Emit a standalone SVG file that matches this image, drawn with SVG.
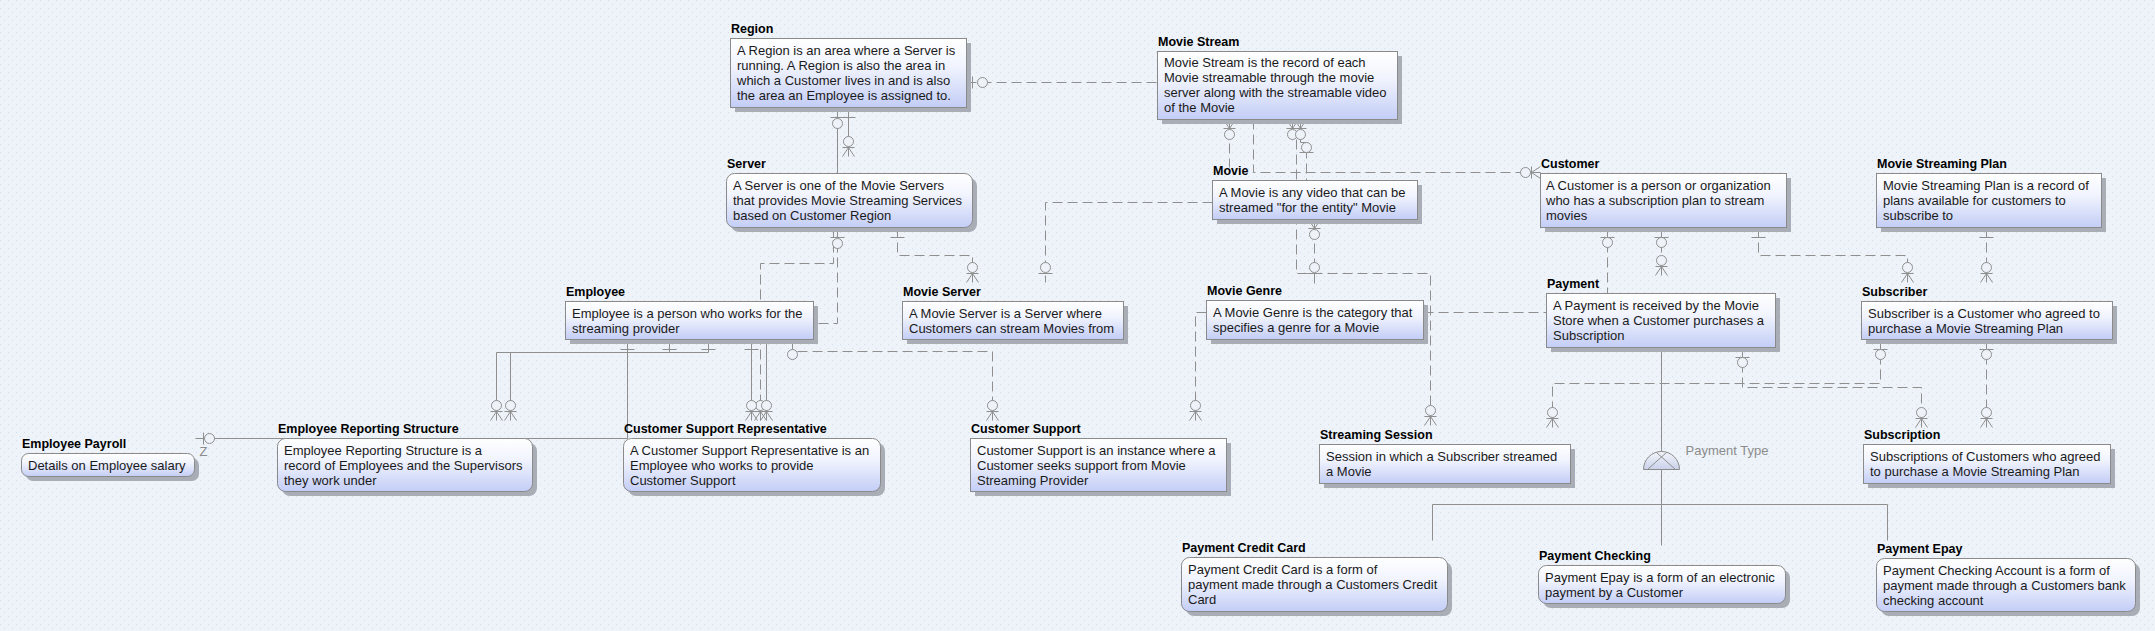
<svg xmlns="http://www.w3.org/2000/svg" width="2155" height="631" viewBox="0 0 2155 631">
<defs>
<pattern id="bgp" width="8" height="8" patternUnits="userSpaceOnUse">
<rect width="8" height="8" fill="#edf3f9"/>
<rect x="0" y="0" width="1" height="1" fill="#d3deea"/>
<rect x="4" y="4" width="1" height="1" fill="#d3deea"/>
</pattern>
<linearGradient id="g" x1="0" y1="0" x2="0" y2="1">
<stop offset="0" stop-color="#ffffff"/>
<stop offset="0.4" stop-color="#f1f4fe"/>
<stop offset="1" stop-color="#c3cdf6"/>
</linearGradient>
<linearGradient id="gd" x1="0" y1="0" x2="0" y2="1">
<stop offset="0" stop-color="#f4f6fb"/>
<stop offset="1" stop-color="#c9d1ea"/>
</linearGradient>
<style>
.box{fill:url(#g);stroke:#8a8a8a;stroke-width:1}
.sh{fill:#a9aeb6}
.t{font-family:"Liberation Sans",Arial,sans-serif;font-size:12.5px;font-weight:bold;fill:#000}
.d{font-family:"Liberation Sans",Arial,sans-serif;font-size:13px;fill:#1a1a1a}
.lbl{font-family:"Liberation Sans",Arial,sans-serif;font-size:13px;fill:#8c8c8c}
.c{fill:none;stroke:#8f8f8f;stroke-width:1}
.ds{stroke-dasharray:10 5}
.o{fill:#edf3f9;stroke:#8f8f8f;stroke-width:1}
</style>
</defs>
<rect width="2155" height="631" fill="url(#bgp)"/>

<g id="connectors" transform="translate(0.5,0.5)">
<!-- Region - Movie Stream -->
<path class="c ds" d="M966,82 H1157"/>
<path class="c" d="M972,76 V88"/><circle class="o" cx="982" cy="82" r="5"/>
<!-- Region - Server -->
<path class="c" d="M837,107 V173 M830,117 H844"/><circle class="o" cx="837" cy="123" r="5"/>
<path class="c" d="M848,107 V156 M841,117 H855 M842,156 L848,147 L854,156 M842,147 H854"/><circle class="o" cx="848" cy="141" r="5"/>
<!-- Movie Stream - Movie -->
<path class="c ds" d="M1229,128 V167"/>
<path class="c" d="M1223,119 L1229,128 L1235,119 M1229,119 V128 M1223,128 H1235"/><circle class="o" cx="1229" cy="134" r="5"/>
<!-- Movie Stream - Customer -->
<path class="c ds" d="M1253,119 V172 H1531"/>
<path class="c" d="M1540,166 L1531,172 L1540,178 M1540,172 H1531 M1531,166 V178"/><circle class="o" cx="1525" cy="172" r="5"/>
<!-- Movie Stream - Streaming Session -->
<path class="c ds" d="M1296,139 V273 H1430 V416"/>
<path class="c" d="M1286,119 L1292,128 L1298,119 M1292,119 V128 M1286,128 H1298 M1294,119 L1300,128 L1306,119 M1300,119 V128 M1294,128 H1306"/>
<circle class="o" cx="1292" cy="134" r="5"/><circle class="o" cx="1300" cy="134" r="5"/>
<path class="c" d="M1424,425 L1430,416 L1436,425 M1430,416 V425 M1424,416 H1436"/><circle class="o" cx="1430" cy="410" r="5"/>
<!-- Movie Stream - Movie (b) -->
<path class="c ds" d="M1300,139 V142 H1306 V180"/>
<path class="c" d="M1299,152 H1313"/><circle class="o" cx="1306" cy="147" r="5"/>
<!-- Movie - Movie Genre -->
<path class="c ds" d="M1314,228 V283"/>
<path class="c" d="M1308,219 L1314,228 L1320,219 M1314,219 V228 M1308,228 H1320 M1307,273 H1321"/>
<circle class="o" cx="1314" cy="234" r="5"/><circle class="o" cx="1314" cy="267" r="5"/>
<!-- Movie - Movie Server -->
<path class="c ds" d="M1212,202 H1045 V282"/>
<path class="c" d="M1038,273 H1052"/><circle class="o" cx="1045" cy="267" r="5"/>
<!-- Server - Movie Server -->
<path class="c ds" d="M897,227 V255 H972 V273"/>
<path class="c" d="M890,237 H904 M966,282 L972,273 L978,282 M972,273 V282 M966,273 H978"/><circle class="o" cx="972" cy="267" r="5"/>
<!-- Server - Customer Support Representative -->
<path class="c ds" d="M833,227 V263 H760 V411"/>
<path class="c" d="M754,420 L760,411 L766,420 M760,411 V420 M754,411 H766"/><circle class="o" cx="760" cy="405" r="5"/>
<!-- Server - Employee -->
<path class="c ds" d="M837,227 V323 H813"/>
<path class="c" d="M830,237 H844"/><circle class="o" cx="837" cy="243" r="5"/>
<!-- Employee - Employee Payroll -->
<path class="c" d="M627,339 V438 H195 M620,349 H634 M203,432 V444"/><circle class="o" cx="209" cy="438" r="5"/>
<!-- Employee - Employee Reporting Structure -->
<path class="c" d="M708,339 V352 H496 V411 M701,349 H715 M490,420 L496,411 L502,420 M496,411 V420 M490,411 H502"/><circle class="o" cx="496" cy="405" r="5"/>
<path class="c" d="M669,339 V352 H510 V411 M662,349 H676 M504,420 L510,411 L516,420 M510,411 V420 M504,411 H516"/><circle class="o" cx="510" cy="405" r="5"/>
<!-- Employee - Customer Support Representative -->
<path class="c" d="M751,339 V411 M744,349 H758 M745,420 L751,411 L757,420 M751,411 V420 M745,411 H757"/><circle class="o" cx="751" cy="405" r="5"/>
<path class="c" d="M766,339 V411 M760,420 L766,411 L772,420 M766,411 V420 M760,411 H772"/><circle class="o" cx="766" cy="405" r="5"/>
<!-- Employee - Customer Support -->
<path class="c ds" d="M792,339 V349 M797,351 H992 V411"/>
<path class="c" d="M986,420 L992,411 L998,420 M992,411 V420 M986,411 H998"/>
<circle class="o" cx="792" cy="354" r="5"/><circle class="o" cx="992" cy="405" r="5"/>
<!-- Movie Genre - Customer Support -->
<path class="c ds" d="M1206,312 H1195 V411"/>
<path class="c" d="M1189,420 L1195,411 L1201,420 M1195,411 V420 M1189,411 H1201"/><circle class="o" cx="1195" cy="405" r="5"/>
<!-- Movie Genre - Payment -->
<path class="c ds" d="M1423,312 H1546"/>
<!-- Customer - Payment -->
<path class="c ds" d="M1607,227 V293"/>
<path class="c" d="M1600,237 H1614"/><circle class="o" cx="1607" cy="242" r="5"/>
<!-- Customer - Payment (b) -->
<path class="c ds" d="M1661,227 V266"/>
<path class="c" d="M1654,237 H1668 M1655,275 L1661,266 L1667,275 M1661,266 V275 M1655,266 H1667"/>
<circle class="o" cx="1661" cy="242" r="5"/><circle class="o" cx="1661" cy="260" r="5"/>
<!-- Customer - Subscriber -->
<path class="c ds" d="M1758,227 V255 H1907 V273"/>
<path class="c" d="M1751,237 H1765 M1901,282 L1907,273 L1913,282 M1907,273 V282 M1901,273 H1913"/><circle class="o" cx="1907" cy="267" r="5"/>
<!-- Movie Streaming Plan - Subscriber -->
<path class="c ds" d="M1986,227 V273"/>
<path class="c" d="M1979,237 H1993 M1980,282 L1986,273 L1992,282 M1986,273 V282 M1980,273 H1992"/><circle class="o" cx="1986" cy="267" r="5"/>
<!-- Payment - Subscription -->
<path class="c ds" d="M1742,347 V387 H1921 V418"/>
<path class="c" d="M1735,357 H1749 M1915,427 L1921,418 L1927,427 M1921,418 V427 M1915,418 H1927"/>
<circle class="o" cx="1742" cy="362" r="5"/><circle class="o" cx="1921" cy="412" r="5"/>
<!-- Subscriber - Streaming Session -->
<path class="c ds" d="M1880,339 V383 H1552 V418"/>
<path class="c" d="M1873,349 H1887 M1546,427 L1552,418 L1558,427 M1552,418 V427 M1546,418 H1558"/>
<circle class="o" cx="1880" cy="354" r="5"/><circle class="o" cx="1552" cy="412" r="5"/>
<!-- Subscriber - Subscription -->
<path class="c ds" d="M1986,339 V418"/>
<path class="c" d="M1979,349 H1993 M1980,427 L1986,418 L1992,427 M1986,418 V427 M1980,418 H1992"/>
<circle class="o" cx="1986" cy="354" r="5"/><circle class="o" cx="1986" cy="412" r="5"/>
<!-- Payment subtypes -->
<path class="c" d="M1661,347 V545 M1432,504 H1887 M1432,504 V540 M1887,504 V540"/>
<path d="M1643,469 A18,18 0 0 1 1679,469 Z" fill="url(#gd)" stroke="#8a8a8a" stroke-width="1"/>
<path class="c" d="M1647,469 L1666,452 M1675,469 L1656,452"/>
<text class="lbl" x="1685" y="454">Payment Type</text>
<text class="lbl" x="199" y="455" font-size="12">Z</text>
</g>

<g id="region">
<rect class="sh" x="735" y="43" width="236" height="69"/>
<rect class="box" x="730.5" y="38.5" width="236" height="69"/>
<text class="t" x="731" y="33">Region</text>
<text class="d" x="737" y="55">A Region is an area where a Server is</text>
<text class="d" x="737" y="70">running. A Region is also the area in</text>
<text class="d" x="737" y="85">which a Customer lives in and is also</text>
<text class="d" x="737" y="100">the area an Employee is assigned to.</text>
</g>

<g id="movie-stream">
<rect class="sh" x="1162" y="56" width="240" height="68"/>
<rect class="box" x="1157.5" y="51.5" width="240" height="68"/>
<text class="t" x="1158" y="46">Movie Stream</text>
<text class="d" x="1164" y="67">Movie Stream is the record of each</text>
<text class="d" x="1164" y="82">Movie streamable through the movie</text>
<text class="d" x="1164" y="97">server along with the streamable video</text>
<text class="d" x="1164" y="112">of the Movie</text>
</g>

<g id="server">
<rect class="sh" x="731" y="178" width="246" height="54" rx="8"/>
<rect class="box" x="726.5" y="173.5" width="246" height="54" rx="8"/>
<text class="t" x="727" y="168">Server</text>
<text class="d" x="733" y="190">A Server is one of the Movie Servers</text>
<text class="d" x="733" y="205">that provides Movie Streaming Services</text>
<text class="d" x="733" y="220">based on Customer Region</text>
</g>

<g id="movie">
<rect class="sh" x="1217" y="185" width="205" height="39"/>
<rect class="box" x="1212.5" y="180.5" width="205" height="39"/>
<text class="t" x="1213" y="175">Movie</text>
<text class="d" x="1219" y="197">A Movie is any video that can be</text>
<text class="d" x="1219" y="212">streamed "for the entity" Movie</text>
</g>

<g id="customer">
<rect class="sh" x="1545" y="178" width="246" height="54"/>
<rect class="box" x="1540.5" y="173.5" width="246" height="54"/>
<text class="t" x="1541" y="168">Customer</text>
<text class="d" x="1546" y="190">A Customer is a person or organization</text>
<text class="d" x="1546" y="205">who has a subscription plan to stream</text>
<text class="d" x="1546" y="220">movies</text>
</g>

<g id="movie-streaming-plan">
<rect class="sh" x="1881" y="178" width="225" height="54"/>
<rect class="box" x="1876.5" y="173.5" width="225" height="54"/>
<text class="t" x="1877" y="168">Movie Streaming Plan</text>
<text class="d" x="1883" y="190">Movie Streaming Plan is a record of</text>
<text class="d" x="1883" y="205">plans available for customers to</text>
<text class="d" x="1883" y="220">subscribe to</text>
</g>

<g id="employee">
<rect class="sh" x="570" y="306" width="248" height="38"/>
<rect class="box" x="565.5" y="301.5" width="248" height="38"/>
<text class="t" x="566" y="296">Employee</text>
<text class="d" x="572" y="318">Employee is a person who works for the</text>
<text class="d" x="572" y="333">streaming provider</text>
</g>

<g id="movie-server">
<rect class="sh" x="907" y="306" width="221" height="38"/>
<rect class="box" x="902.5" y="301.5" width="221" height="38"/>
<text class="t" x="903" y="296">Movie Server</text>
<text class="d" x="909" y="318">A Movie Server is a Server where</text>
<text class="d" x="909" y="333">Customers can stream Movies from</text>
</g>

<g id="movie-genre">
<rect class="sh" x="1211" y="305" width="217" height="39"/>
<rect class="box" x="1206.5" y="300.5" width="217" height="39"/>
<text class="t" x="1207" y="295">Movie Genre</text>
<text class="d" x="1213" y="317">A Movie Genre is the category that</text>
<text class="d" x="1213" y="332">specifies a genre for a Movie</text>
</g>

<g id="payment">
<rect class="sh" x="1551" y="298" width="229" height="54"/>
<rect class="box" x="1546.5" y="293.5" width="229" height="54"/>
<text class="t" x="1547" y="288">Payment</text>
<text class="d" x="1553" y="310">A Payment is received by the Movie</text>
<text class="d" x="1553" y="325">Store when a Customer purchases a</text>
<text class="d" x="1553" y="340">Subscription</text>
</g>

<g id="subscriber">
<rect class="sh" x="1866" y="306" width="251" height="38"/>
<rect class="box" x="1861.5" y="301.5" width="251" height="38"/>
<text class="t" x="1862" y="296">Subscriber</text>
<text class="d" x="1868" y="318">Subscriber is a Customer who agreed to</text>
<text class="d" x="1868" y="333">purchase a Movie Streaming Plan</text>
</g>

<g id="employee-payroll">
<rect class="sh" x="26" y="458" width="173" height="23" rx="7"/>
<rect class="box" x="21.5" y="453.5" width="173" height="23" rx="7"/>
<text class="t" x="22" y="448">Employee Payroll</text>
<text class="d" x="28" y="470">Details on Employee salary</text>
</g>

<g id="employee-reporting-structure">
<rect class="sh" x="282" y="443" width="255" height="53" rx="8"/>
<rect class="box" x="277.5" y="438.5" width="255" height="53" rx="8"/>
<text class="t" x="278" y="433">Employee Reporting Structure</text>
<text class="d" x="284" y="455">Employee Reporting Structure is a</text>
<text class="d" x="284" y="470">record of Employees and the Supervisors</text>
<text class="d" x="284" y="485">they work under</text>
</g>

<g id="customer-support-representative">
<rect class="sh" x="628" y="443" width="257" height="53" rx="8"/>
<rect class="box" x="623.5" y="438.5" width="257" height="53" rx="8"/>
<text class="t" x="624" y="433">Customer Support Representative</text>
<text class="d" x="630" y="455">A Customer Support Representative is an</text>
<text class="d" x="630" y="470">Employee who works to provide</text>
<text class="d" x="630" y="485">Customer Support</text>
</g>

<g id="customer-support">
<rect class="sh" x="975" y="443" width="256" height="53"/>
<rect class="box" x="970.5" y="438.5" width="256" height="53"/>
<text class="t" x="971" y="433">Customer Support</text>
<text class="d" x="977" y="455">Customer Support is an instance where a</text>
<text class="d" x="977" y="470">Customer seeks support from Movie</text>
<text class="d" x="977" y="485">Streaming Provider</text>
</g>

<g id="streaming-session">
<rect class="sh" x="1324" y="449" width="251" height="39"/>
<rect class="box" x="1319.5" y="444.5" width="251" height="39"/>
<text class="t" x="1320" y="439">Streaming Session</text>
<text class="d" x="1326" y="461">Session in which a Subscriber streamed</text>
<text class="d" x="1326" y="476">a Movie</text>
</g>

<g id="subscription">
<rect class="sh" x="1868" y="449" width="247" height="39"/>
<rect class="box" x="1863.5" y="444.5" width="247" height="39"/>
<text class="t" x="1864" y="439">Subscription</text>
<text class="d" x="1870" y="461">Subscriptions of Customers who agreed</text>
<text class="d" x="1870" y="476">to purchase a Movie Streaming Plan</text>
</g>

<g id="payment-credit-card">
<rect class="sh" x="1186" y="562" width="266" height="54" rx="8"/>
<rect class="box" x="1181.5" y="557.5" width="266" height="54" rx="8"/>
<text class="t" x="1182" y="552">Payment Credit Card</text>
<text class="d" x="1188" y="574">Payment Credit Card is a form of</text>
<text class="d" x="1188" y="589">payment made through a Customers Credit</text>
<text class="d" x="1188" y="604">Card</text>
</g>

<g id="payment-checking">
<rect class="sh" x="1543" y="570" width="247" height="38" rx="8"/>
<rect class="box" x="1538.5" y="565.5" width="247" height="38" rx="8"/>
<text class="t" x="1539" y="560">Payment Checking</text>
<text class="d" x="1545" y="582">Payment Epay is a form of an electronic</text>
<text class="d" x="1545" y="597">payment by a Customer</text>
</g>

<g id="payment-epay">
<rect class="sh" x="1881" y="563" width="259" height="53" rx="8"/>
<rect class="box" x="1876.5" y="558.5" width="259" height="53" rx="8"/>
<text class="t" x="1877" y="553">Payment Epay</text>
<text class="d" x="1883" y="575">Payment Checking Account is a form of</text>
<text class="d" x="1883" y="590">payment made through a Customers bank</text>
<text class="d" x="1883" y="605">checking account</text>
</g>
</svg>
